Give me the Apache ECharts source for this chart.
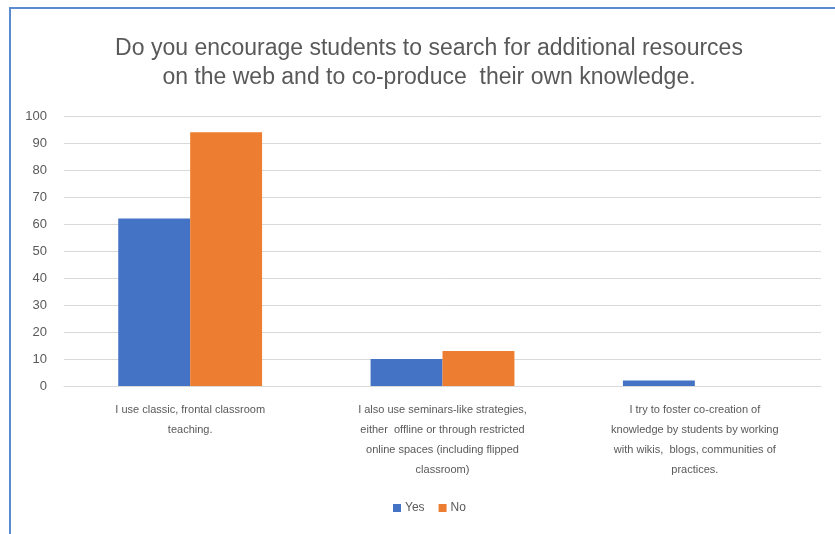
<!DOCTYPE html>
<html>
<head>
<meta charset="utf-8">
<script src="https://cdn.jsdelivr.net/npm/echarts@6/dist/echarts.min.js"></script>
<style>html,body{margin:0;padding:0;background:#fff;}#c{width:835px;height:534px;}</style>
</head>
<body>
<div id="c"></div>
<script>
var titleText = "Do you encourage students to search for additional resources\non the web and to co-produce  their own knowledge.";
var categories = [
  "I use classic, frontal classroom\nteaching.",
  "I also use seminars-like strategies,\neither  offline or through restricted\nonline spaces (including flipped\nclassroom)",
  "I try to foster co-creation of\nknowledge by students by working\nwith wikis,  blogs, communities of\npractices."
];
var yesValues = [62, 10, 2];
var noValues = [94, 13, 0];
var yTicks = {min: 0, max: 100, interval: 10};

var FONT = "'Liberation Sans', Arial, sans-serif";
var chart = echarts.init(document.getElementById('c'));
chart.setOption({
  animation: false,
  backgroundColor: '#fff',
  graphic: [{
    type: 'rect', shape: {x: 10, y: 8, width: 900, height: 600},
    style: {fill: 'none', stroke: '#5b8ad0', lineWidth: 2}, silent: true
  }],
  title: {
    text: titleText, left: 424, top: 29, textAlign: 'center',
    textStyle: {fontFamily: FONT, fontSize: 23, fontWeight: 'normal', color: '#595959', lineHeight: 29}
  },
  legend: {
    data: ['Yes', 'No'], top: 497, left: 388,
    itemWidth: 8, itemHeight: 8, itemGap: 14, icon: 'rect',
    textStyle: {fontFamily: FONT, fontSize: 12, color: '#595959', padding: [0, 0, 0, -1]}
  },
  grid: {left: 64, right: 14, top: 116, bottom: 148, containLabel: false},
  xAxis: {
    type: 'category', data: categories,
    axisLine: {lineStyle: {color: '#d9d9d9'}},
    axisTick: {show: false},
    axisLabel: {interval: 0, margin: 14, fontFamily: FONT, fontSize: 11, color: '#595959', lineHeight: 20}
  },
  yAxis: {
    type: 'value', min: yTicks.min, max: yTicks.max, interval: yTicks.interval,
    axisLine: {show: false}, axisTick: {show: false},
    splitLine: {lineStyle: {color: '#d9d9d9'}},
    axisLabel: {margin: 17, fontFamily: FONT, fontSize: 13, color: '#595959'}
  },
  series: [
    {name: 'Yes', type: 'bar', data: yesValues, barGap: '0%', barCategoryGap: '43%',
     itemStyle: {color: '#4472c4'}},
    {name: 'No', type: 'bar', data: noValues, barGap: '0%', barCategoryGap: '43%',
     itemStyle: {color: '#ed7d31'}}
  ]
});
</script>
</body>
</html>
